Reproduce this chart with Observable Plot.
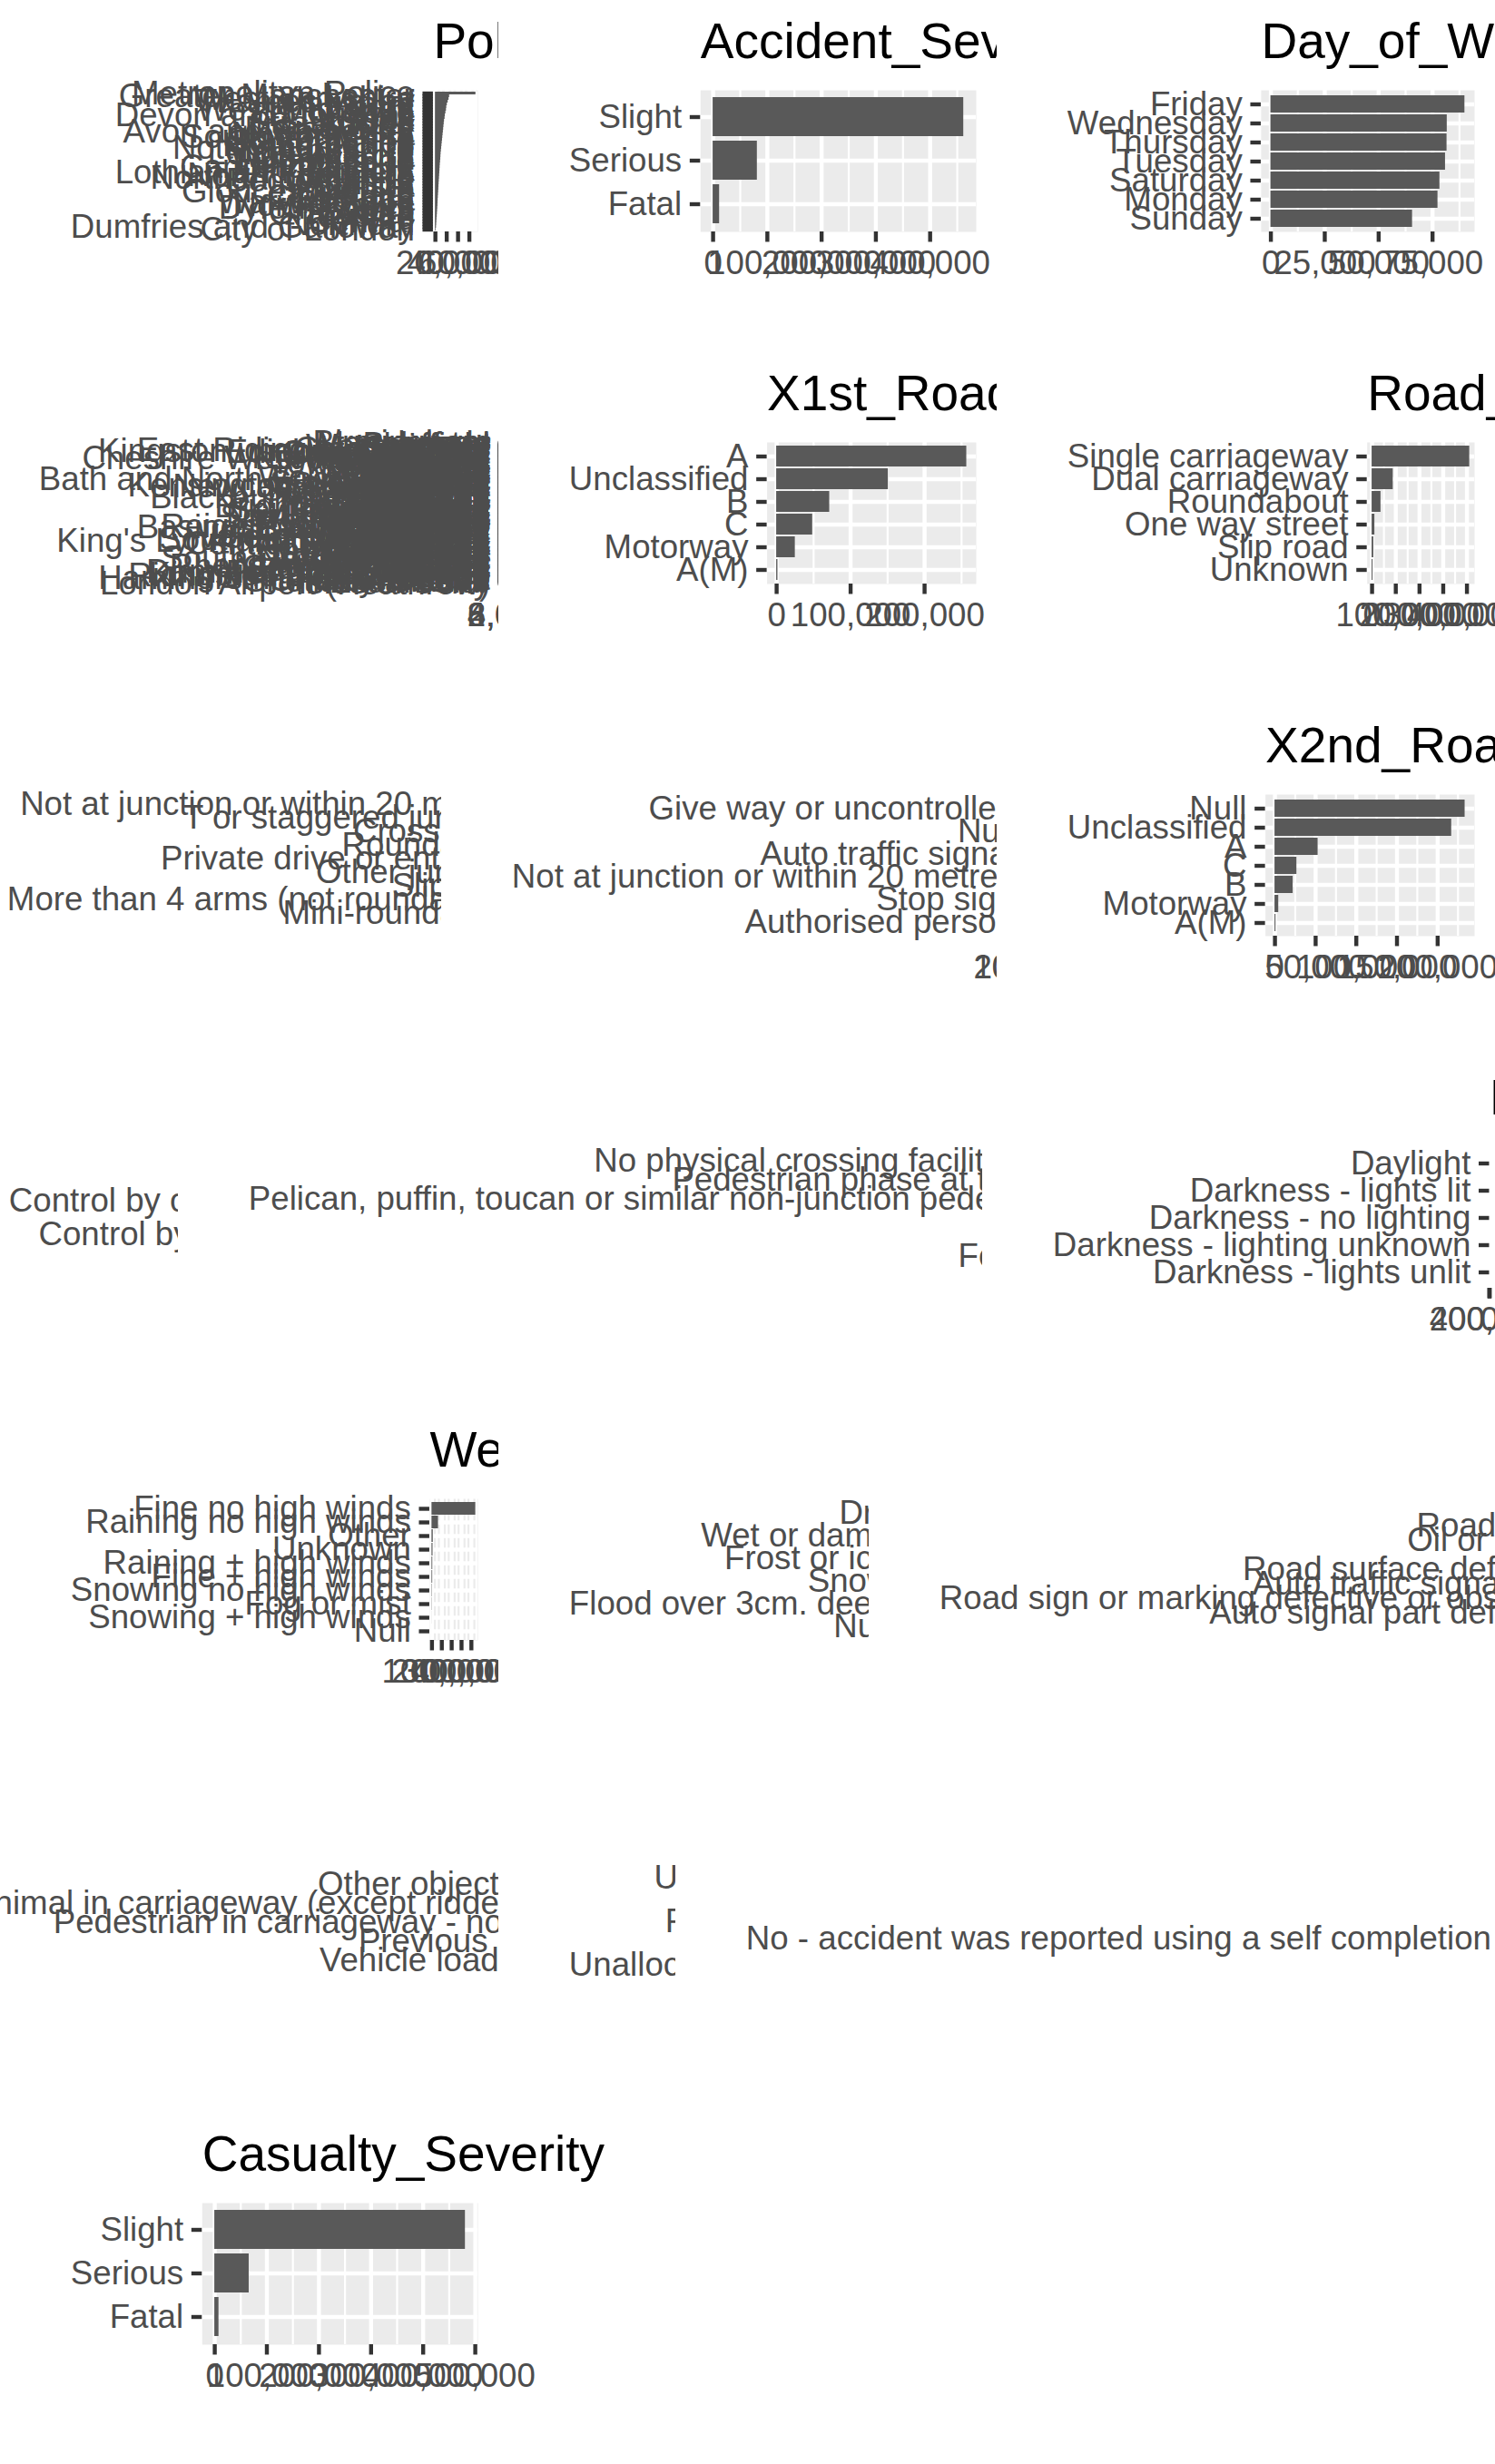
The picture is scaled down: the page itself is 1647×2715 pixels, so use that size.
<!DOCTYPE html>
<html><head><meta charset="utf-8">
<script src="https://cdn.jsdelivr.net/npm/d3@7"></script>
<script src="https://cdn.jsdelivr.net/npm/@observablehq/plot@0.6"></script>
<style>
body{margin:0;background:#fff;}
#page{position:relative;width:1647px;height:2715px;overflow:hidden;background:#fff;}
#page svg{position:absolute;max-width:none;}
</style></head><body><div id="page"></div>
<script>
// ---------------- data (category, count), top bar first ----------------
const policeForce = [["Metropolitan Police",71500],["Greater Manchester",25000],["West Yorkshire",24000],["Thames Valley",22500],["Hampshire",21000],["Kent",20000],["West Midlands",19500],["Lancashire",18500],["Devon and Cornwall",17500],["Essex",17000],["Sussex",16000],["Strathclyde",15500],["Surrey",15000],["Merseyside",14500],["Avon and Somerset",14000],["Northumbria",13500],["South Yorkshire",13000],["Staffordshire",12500],["South Wales",12000],["Hertfordshire",11500],["Nottinghamshire",11000],["Cheshire",10500],["Leicestershire",10000],["West Mercia",9700],["Derbyshire",9400],["Humberside",9000],["Lincolnshire",8600],["Cambridgeshire",8300],["Norfolk",8000],["Lothian and Borders",7700],["North Yorkshire",7400],["Northamptonshire",7100],["Bedfordshire",6800],["Suffolk",6500],["Dorset",6200],["Wiltshire",6000],["Gloucestershire",5700],["Durham",5400],["Cleveland",5100],["Cumbria",4800],["Warwickshire",4600],["North Wales",4400],["Dyfed-Powys",4100],["Gwent",3800],["Grampian",3500],["Tayside",3200],["Fife",2800],["Central",2500],["Northern",2200],["Dumfries and Galloway",1900],["City of London",1100]];
const accidentSeverity = [["Slight",461900],["Serious",81500],["Fatal",11900]];
const dayOfWeek = [["Friday",90000],["Wednesday",81800],["Thursday",81700],["Tuesday",81000],["Saturday",78400],["Monday",77500],["Sunday",65700]];
const localAuthority = [["Birmingham",8900],["Leeds",6400],["Manchester",4600],["Bradford",4300],["Sheffield",4100],["Westminster",4000],["Liverpool",3800],["Cornwall",3700],["Glasgow City",3500],["Kirklees",3300],["East Riding of Yorkshire",3200],["Kingston upon Hull, City of",3100],["Edinburgh, City of",3000],["Cheshire East",2950],["Bristol, City of",2900],["Wiltshire",2850],["Leicester",2800],["Lambeth",2750],["Wakefield",2700],["Northumberland",2650],["Cheshire West and Chester",2600],["Durham",2550],["Barnet",2500],["Wandsworth",2450],["Southwark",2400],["Ealing",2350],["Tower Hamlets",2300],["Croydon",2250],["Camden",2200],["Doncaster",2150],["Coventry",2100],["Nottingham",2050],["Wigan",2000],["Calderdale",1980],["Bolton",1960],["Newham",1940],["Lewisham",1920],["Hillingdon",1900],["Stockport",1880],["Brent",1860],["Enfield",1840],["Hackney",1820],["Sandwell",1800],["Dudley",1780],["Walsall",1760],["Wolverhampton",1740],["Rotherham",1720],["Bath and North East Somerset",1700],["Sefton",1680],["Wirral",1660],["Salford",1640],["Barnsley",1620],["Stoke-on-Trent",1600],["Islington",1580],["Haringey",1560],["Kensington and Chelsea",1540],["Hounslow",1520],["Newcastle upon Tyne",1500],["Sunderland",1480],["Gateshead",1460],["North Tyneside",1440],["South Tyneside",1420],["Oldham",1400],["Rochdale",1380],["Tameside",1360],["Trafford",1340],["Bury",1320],["Knowsley",1300],["St. Helens",1280],["Warrington",1260],["Halton",1240],["Blackburn with Darwen",1220],["Blackpool",1200],["Preston",1180],["Lancaster",1160],["Milton Keynes",1140],["Luton",1120],["Reading",1100],["Slough",1080],["Swindon",1060],["Southampton",1040],["Portsmouth",1020],["Brighton and Hove",1000],["Plymouth",985],["Derby",970],["Peterborough",955],["Medway",940],["Southend-on-Sea",925],["Thurrock",910],["Aberdeen City",895],["Dundee City",880],["Cardiff",865],["Swansea",850],["Newport",835],["Fife",820],["North Lanarkshire",805],["South Lanarkshire",790],["Aylesbury Vale",775],["Wycombe",760],["Colchester",745],["Chelmsford",730],["Basildon",715],["Maidstone",700],["Canterbury",690],["Sevenoaks",680],["Tunbridge Wells",670],["Guildford",660],["Elmbridge",650],["Reigate and Banstead",640],["Waverley",630],["Basingstoke and Deane",620],["East Hampshire",610],["New Forest",600],["Winchester",590],["Test Valley",580],["Wealden",570],["Horsham",560],["Mid Sussex",550],["Chichester",540],["Arun",530],["Cherwell",520],["Vale of White Horse",510],["South Oxfordshire",500],["Oxford",490],["Cambridge",480],["South Cambridgeshire",470],["Huntingdonshire",460],["King's Lynn and West Norfolk",450],["Norwich",440],["Ipswich",430],["Bedford",420],["Central Bedfordshire",410],["Northampton",400],["Kettering",390],["Harrogate",380],["Scarborough",370],["York",360],["Selby",350],["Carlisle",340],["South Lakeland",330],["Eden",320],["Allerdale",310],["Cheltenham",300],["Stroud",290],["Tewkesbury",280],["Exeter",270],["Teignbridge",260],["East Devon",250],["Torbay",240],["North Somerset",230],["South Gloucestershire",220],["Mendip",210],["Taunton Deane",200],["Bournemouth",195],["Poole",190],["Swale",185],["Ashford",180],["Thanet",175],["Dover",170],["Neath Port Talbot",165],["Rhondda, Cynon, Taff",160],["Carmarthenshire",155],["Powys",150],["Gwynedd",145],["West Lothian",140],["Scottish Borders",135],["Highland",130],["Dumfries and Galloway",125],["Perth and Kinross",120],["Angus",115],["Moray",110],["Kingston upon Thames",105],["Richmond upon Thames",100],["Sutton",95],["Merton",90],["Hammersmith and Fulham",85],["Castle Point",80],["Rutland",70],["Orkney Islands",50],["Shetland Islands",45],["Eilean Siar",40],["Isles of Scilly",10],["London Airport (Heathrow)",5]];
const firstRoadClass = [["A",257000],["Unclassified",151000],["B",71700],["C",48700],["Motorway",25200],["A(M)",1700]];
const roadType = [["Single carriageway",411600],["Dual carriageway",89000],["Roundabout",37400],["One way street",11600],["Slip road",7000],["Unknown",3900]];
const junctionDetail = [["Not at junction or within 20 metres",223000],["T or staggered junction",174000],["Crossroads",54000],["Roundabout",48000],["Private drive or entrance",19500],["Other junction",14000],["Slip road",8000],["More than 4 arms (not roundabout)",6500],["Mini-roundabout",5500],["Null",50]];
const junctionControl = [["Give way or uncontrolled",268000],["Null",200000],["Auto traffic signal",55000],["Not at junction or within 20 metres",28000],["Stop sign",2800],["Authorised person",1200]];
const secondRoadClass = [["Null",233700],["Unclassified",217200],["A",53000],["C",26900],["B",22300],["Motorway",4600],["A(M)",1200]];
const pedHumanControl = [["None within 50 metres",551000],["Control by other authorised person",2400],["Control by school crossing patrol",1300],["Null",60]];
const pedPhysicalFacilities = [["No physical crossing facilities within 50 metres",463000],["Pedestrian phase at traffic signal junction",37000],["Pelican, puffin, toucan or similar non-junction pedestrian light crossing",32000],["Zebra",12000],["Central refuge",10000],["Footbridge or subway",900],["Null",100]];
const lightConditions = [["Daylight",405000],["Darkness - lights lit",110000],["Darkness - no lighting",29000],["Darkness - lighting unknown",7000],["Darkness - lights unlit",3000]];
const weatherConditions = [["Fine no high winds",444000],["Raining no high winds",66000],["Other",13000],["Unknown",10500],["Raining + high winds",8000],["Fine + high winds",7200],["Snowing no high winds",3500],["Fog or mist",2400],["Snowing + high winds",600],["Null",100]];
const roadSurface = [["Dry",385000],["Wet or damp",152000],["Frost or ice",12500],["Snow",3500],["Flood over 3cm. deep",900],["Null",700]];
const specialConditions = [["None",541000],["Roadworks",6500],["Oil or diesel",2000],["Mud",1500],["Road surface defective",1300],["Auto traffic signal - out",800],["Road sign or marking defective or obscured",700],["Auto signal part defective",250],["Null",50]];
const carriagewayHazards = [["None",545000],["Other object on road",4500],["Any animal in carriageway (except ridden horse)",2500],["Pedestrian in carriageway - not injured",1300],["Previous accident",1000],["Vehicle load on road",700],["Null",50]];
const urbanRural = [["Urban",358000],["Rural",197000],["Unallocated",30]];
const policeAttend = [["Yes",450000],["No",103000],["No - accident was reported using a self completion form (self rep only)",2000],["Null",50]];
const casualtySeverity = [["Slight",481000],["Serious",66000],["Fatal",8000]];

const panels = [
  {title:"Police_Force", data:policeForce, ticks:[0,20000,40000,60000]},
  {title:"Accident_Severity", data:accidentSeverity, ticks:[0,100000,200000,300000,400000]},
  {title:"Day_of_Week", data:dayOfWeek, ticks:[0,25000,50000,75000]},
  {title:"Local_Authority_.District.", data:localAuthority, ticks:[0,2000,4000,6000,8000]},
  {title:"X1st_Road_Class", data:firstRoadClass, ticks:[0,100000,200000]},
  {title:"Road_Type", data:roadType, ticks:[0,100000,200000,300000,400000]},
  {title:"Junction_Detail", data:junctionDetail, ticks:[0,50000,100000,150000,200000]},
  {title:"Junction_Control", data:junctionControl, ticks:[0,100000,200000]},
  {title:"X2nd_Road_Class", data:secondRoadClass, ticks:[0,50000,100000,150000,200000]},
  {title:"Pedestrian_Crossing.Human_Control", data:pedHumanControl, ticks:[0,100000,200000,300000,400000,500000]},
  {title:"Pedestrian_Crossing.Physical_Facilities", data:pedPhysicalFacilities, ticks:[0,100000,200000,300000,400000]},
  {title:"Light_Conditions", data:lightConditions, ticks:[0,200000,400000]},
  {title:"Weather_Conditions", data:weatherConditions, ticks:[0,100000,200000,300000,400000]},
  {title:"Road_Surface_Conditions", data:roadSurface, ticks:[0,100000,200000,300000]},
  {title:"Special_Conditions_at_Site", data:specialConditions, ticks:[0,100000,200000,300000,400000,500000]},
  {title:"Carriageway_Hazards", data:carriagewayHazards, ticks:[0,100000,200000,300000,400000,500000]},
  {title:"Urban_or_Rural_Area", data:urbanRural, ticks:[0,100000,200000,300000]},
  {title:"Did_Police_Officer_Attend_Scene_of_Accident", data:policeAttend, ticks:[0,100000,200000,300000,400000]},
  {title:"Casualty_Severity", data:casualtySeverity, ticks:[0,100000,200000,300000,400000,500000]}
];

// ---------------- layout (ggplot-like gtable in each grid cell) ----------------
const FONT = '"Liberation Sans", Arial, Helvetica, sans-serif';
const CELL_W = 549, CELL_H = 388;
const AX = 36.67, TI = 55;
const PRE = 78, POST = 20, RIGHT = 23, TOP = 99, BOTTOM = 133;
const ctx = document.createElement("canvas").getContext("2d");
ctx.font = `${AX}px ${FONT}`;
const tw = s => ctx.measureText(s).width;
const page = document.getElementById("page");

panels.forEach((p, k) => {
  const row = Math.floor(k / 3), col = k % 3;
  const cx = col * CELL_W, cy = row * CELL_H;
  const W = d3.max(p.data, d => tw(d[0]));
  const fixed = PRE + W + POST + RIGHT;
  let left = cx, width = CELL_W;
  if (fixed > CELL_W) { width = fixed; left = cx + CELL_W / 2 - fixed / 2; }
  const M = d3.max(p.data, d => d[1]);
  const lo = -0.05 * M, hi = 1.05 * M;
  const step = p.ticks[1] - p.ticks[0];
  const minor = [];
  for (let i = 0; i < p.ticks.length; i++) {
    const a = p.ticks[i] - step / 2, b = p.ticks[i] + step / 2;
    if (i === 0 && a >= lo) minor.push(a);
    if (b <= hi) minor.push(b);
  }
  const chart = Plot.plot({
    width, height: CELL_H,
    marginLeft: PRE + W + POST, marginRight: RIGHT, marginTop: TOP, marginBottom: BOTTOM,
    style: {background: "white", overflow: "visible", fontFamily: FONT},
    x: {domain: [lo, hi]},
    y: {type: "band", domain: p.data.map(d => d[0]), paddingInner: 0.1, paddingOuter: 0.15},
    marks: [
      Plot.frame({fill: "#EBEBEB"}),
      Plot.gridX(minor, {stroke: "white", strokeOpacity: 1, strokeWidth: 2.2}),
      Plot.gridX(p.ticks, {stroke: "white", strokeOpacity: 1, strokeWidth: 4.4}),
      Plot.gridY({stroke: "white", strokeOpacity: 1, strokeWidth: 4.4}),
      Plot.barX(p.data, {x: d => d[1], y: d => d[0], fill: "#595959"}),
      Plot.axisY({tickSize: 11.46, tickPadding: 9.17, fontSize: AX, fill: "#4D4D4D", stroke: "#333333", strokeWidth: 4.4, label: null}),
      Plot.axisX(p.ticks, {tickSize: 11.46, tickPadding: 9.17, fontSize: AX, fill: "#4D4D4D", stroke: "#333333", strokeWidth: 4.4, tickFormat: d3.format(","), label: null}),
      Plot.text([p.title], {frameAnchor: "top-left", textAnchor: "start", lineAnchor: "top", dy: -74.7, fontSize: TI, fill: "black"})
    ]
  });
  chart.style.left = left + "px";
  chart.style.top = cy + "px";
  page.appendChild(chart);
});
</script>
</body></html>
